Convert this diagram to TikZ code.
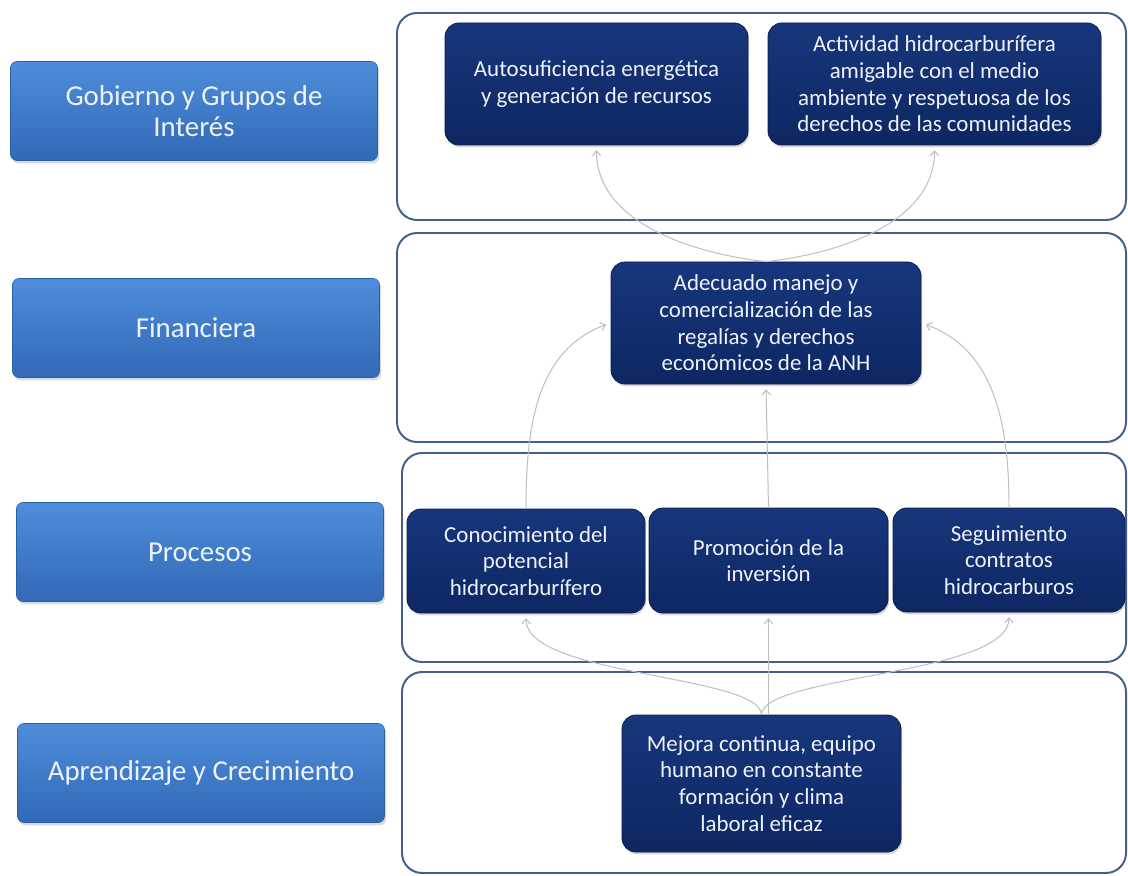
\documentclass[tikz,border=0pt]{standalone}
\usepackage{fontspec}
\setmainfont{Carlito}
\usetikzlibrary{arrows.meta,shadows}

\definecolor{labeltop}{HTML}{4E8DDB}
\definecolor{labelbot}{HTML}{3169B6}
\definecolor{navytop}{HTML}{18367C}
\definecolor{navybot}{HTML}{0D2763}
\definecolor{paneledge}{HTML}{42608A}
\definecolor{arrowgray}{HTML}{BDBDBD}
\definecolor{paletext}{HTML}{EEF3FA}

\begin{document}
\begin{tikzpicture}[x=0.25mm,y=0.25mm,
    perspective/.style={rounded corners=1.6mm, top color=labeltop, bottom color=labelbot,
        draw=labelbot!90!black, line width=0.4pt, text=paletext, align=center,
        minimum width=367*0.25mm, minimum height=99*0.25mm,
        font=\fontsize{20.5}{21.5}\selectfont,
        drop shadow={opacity=0.3,shadow xshift=0.4mm,shadow yshift=-0.7mm}},
    goal/.style={rounded corners=3.5mm, top color=navytop, bottom color=navybot,
        draw=navybot!80!black, line width=0.6pt, text=paletext, align=center, inner sep=0pt,
        font=\fontsize{16.3}{19}\selectfont,
        drop shadow={opacity=0.3,shadow xshift=0.3mm,shadow yshift=-0.6mm}},
    panel/.style={draw=paneledge, line width=1.4pt, rounded corners=5mm, fill=white},
    link/.style={draw=arrowgray, line width=0.7pt, -{Straight Barb[length=3.5pt,width=6pt]}, shorten >=1.2mm}
]

    \useasboundingbox (0,0) rectangle (1128,875) ;

    % panels
    \draw[panel] (397,862) rectangle (1126,655) ;
    \draw[panel] (397,642) rectangle (1126,433) ;
    \draw[panel] (402,422) rectangle (1126,213) ;
    \draw[panel] (402,203) rectangle (1126,2) ;

    % perspectives
    \node[perspective] (gobierno) at (194,764) {Gobierno y Grupos de\\Interés};
    \node[perspective] (financiera) at (196,547) {Financiera};
    \node[perspective] (procesos) at (200,323) {Procesos};
    \node[perspective] (aprendizaje) at (201,102) {Aprendizaje y Crecimiento};

    % goals
    \node[goal, minimum width=303*0.25mm, minimum height=122*0.25mm] (autosuf) at (596.5,791)
        {Autosuficiencia energética\\y generación de recursos};
    \node[goal, minimum width=333*0.25mm, minimum height=122*0.25mm] (actividad) at (934.5,791)
        {Actividad hidrocarburífera\\amigable con el medio\\ambiente y respetuosa de los\\derechos de las comunidades};
    \node[goal, minimum width=310*0.25mm, minimum height=122*0.25mm] (adecuado) at (766,552)
        {Adecuado manejo y\\comercialización de las\\regalías y derechos\\económicos de la ANH};
    \node[goal, minimum width=238*0.25mm, minimum height=104*0.25mm] (conocim) at (526,314)
        {Conocimiento del\\potencial\\hidrocarburífero};
    \node[goal, minimum width=239*0.25mm, minimum height=105*0.25mm] (promocion) at (768.5,314.5)
        {Promoción de la\\inversión};
    \node[goal, minimum width=232*0.25mm, minimum height=104*0.25mm] (seguim) at (1009,315)
        {Seguimiento\\contratos\\hidrocarburos};
    \node[goal, minimum width=279*0.25mm, minimum height=137*0.25mm] (mejora) at (761.5,91.5)
        {Mejora continua, equipo\\humano en constante\\formación y clima\\laboral eficaz};

    % arrows learning -> processes
    \draw[link] (mejora.north) .. controls +(-2,40) and +(0,-63) .. (conocim.south) ;
    \draw[link] (promocion.south |- mejora.north) -- (promocion.south) ;
    \draw[link] (mejora.north) .. controls +(2,40) and +(0,-63) .. (seguim.south) ;

    % arrows processes -> finance
    \draw[link] (conocim.north) to[out=90,in=-160] (adecuado.west) ;
    \draw[link] (promocion.north) -- (adecuado.south) ;
    \draw[link] (seguim.north) to[out=90,in=-20] (adecuado.east) ;

    % arrows finance -> government
    \draw[link] (adecuado.north) .. controls +(-66,7) and +(0,-80) .. (autosuf.south) ;
    \draw[link] (adecuado.north) .. controls +(66,7) and +(0,-80) .. (actividad.south) ;

\end{tikzpicture}
\end{document}
